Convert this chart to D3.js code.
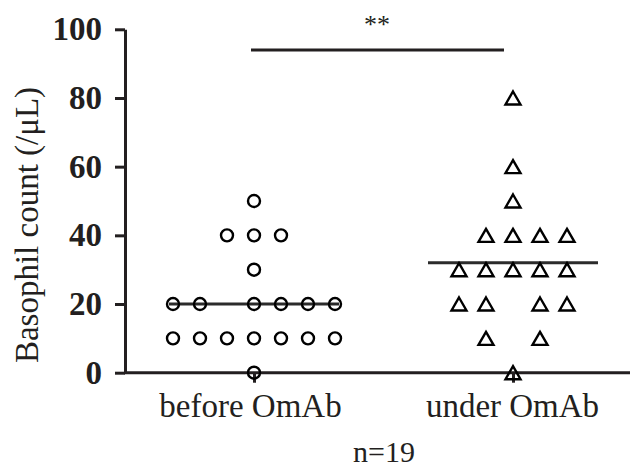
<!DOCTYPE html>
<html>
<head>
<meta charset="utf-8">
<script src="https://cdn.jsdelivr.net/npm/d3@7"></script>
<style>
   body { margin: 0; background: #fff; }
   svg { display: block; }
</style>
</head>
<body>
<svg id="chart" width="636" height="470"></svg>
<script>
(function(){
   // data
   var groups = ['before OmAb', 'under OmAb'];
   var beforeValues = [50, 40, 40, 40, 30, 20, 20, 20, 20, 20, 20, 10, 10, 10, 10, 10, 10, 10, 0];
   var beforeSlots  = [ 0, -1,  0,  1,  0, -3, -2,  0,  1,  2,  3, -3, -2, -1,  0,  1,  2,  3, 0];
   var underValues  = [80, 60, 50, 40, 40, 40, 40, 30, 30, 30, 30, 30, 20, 20, 20, 20, 10, 10, 0];
   var underSlots   = [ 0,  0,  0, -1,  0,  1,  2, -2, -1,  0,  1,  2, -2, -1,  1,  2, -1,  1, 0];
   var medians = [20, 32];
   var yTicks = [0, 20, 40, 60, 80, 100];
   var sigLevel = 94;
   var sigLabel = '**';
   var yTitle = 'Basophil count (/\u03bcL)';
   var note = 'n=19';

   var ink = '#231f20';
   var serif = '"Liberation Serif", "Times New Roman", serif';

   var svg = d3.select('#chart');
   var x = d3.scalePoint().domain(groups).range([254, 513]);
   var y = d3.scaleLinear().domain([0, 100]).range([372.7, 29.3]);
   var slot = d3.scaleLinear().domain([-1, 1]).range([-27, 27]);

   // y axis
   var yAxis = svg.append('g')
      .attr('transform', 'translate(125,0)')
      .call(d3.axisLeft(y).tickValues(yTicks).tickSize(10).tickSizeOuter(0).tickPadding(13));
   yAxis.select('.domain').attr('stroke', ink).attr('stroke-width', 3);
   yAxis.selectAll('.tick line').attr('stroke', ink).attr('stroke-width', 3);
   yAxis.selectAll('.tick text')
      .attr('fill', ink)
      .attr('font-family', serif)
      .attr('font-weight', 'bold')
      .attr('font-size', 33);

   // x axis
   var xAxis = svg.append('g')
      .attr('transform', 'translate(0,' + y(0) + ')')
      .call(d3.axisBottom(x).tickSize(10).tickSizeOuter(0).tickPadding(11));
   xAxis.select('.domain').remove();
   xAxis.append('line')
      .attr('x1', 124)
      .attr('x2', 630)
      .attr('stroke', ink)
      .attr('stroke-width', 3);
   xAxis.selectAll('.tick line').attr('stroke', ink).attr('stroke-width', 3);
   xAxis.selectAll('.tick text')
      .attr('fill', ink)
      .attr('font-family', serif)
      .attr('font-size', 33)
      .attr('dx', function(d, i){ return i === 0 ? -4 : -1; });

   // axis title
   svg.append('text')
      .attr('transform', 'translate(38,225) rotate(-90)')
      .attr('text-anchor', 'middle')
      .attr('fill', ink)
      .attr('font-family', serif)
      .attr('font-size', 33)
      .text(yTitle);

   svg.append('text')
      .attr('x', 384)
      .attr('y', 462)
      .attr('text-anchor', 'middle')
      .attr('fill', ink)
      .attr('font-family', serif)
      .attr('font-size', 30)
      .text(note);

   // medians
   svg.selectAll('.median')
      .data(medians)
      .enter().append('line')
      .attr('class', 'median')
      .attr('x1', function(d, i){ return x(groups[i]) - 85; })
      .attr('x2', function(d, i){ return x(groups[i]) + 85; })
      .attr('y1', function(d){ return y(d); })
      .attr('y2', function(d){ return y(d); })
      .attr('stroke', '#2b2b2b')
      .attr('stroke-width', 3);

   // points
   var before = beforeValues.map(function(v, i){ return {v: v, s: beforeSlots[i]}; });
   var under = underValues.map(function(v, i){ return {v: v, s: underSlots[i]}; });

   svg.append('g').selectAll('circle')
      .data(before)
      .enter().append('circle')
      .attr('cx', function(d){ return x(groups[0]) + slot(d.s); })
      .attr('cy', function(d){ return y(d.v); })
      .attr('r', 6)
      .attr('fill', 'none')
      .attr('stroke', '#000')
      .attr('stroke-width', 2.4);

   svg.append('g').selectAll('path')
      .data(under)
      .enter().append('path')
      .attr('d', 'M0,-6.5L7.5,6.5L-7.5,6.5Z')
      .attr('transform', function(d){
         return 'translate(' + (x(groups[1]) + slot(d.s)) + ',' + y(d.v) + ')';
      })
      .attr('fill', 'none')
      .attr('stroke', '#000')
      .attr('stroke-width', 2.4)
      .attr('stroke-linejoin', 'miter');

   // significance bar
   svg.append('line')
      .attr('x1', x(groups[0]) - 3)
      .attr('x2', x(groups[1]) - 9)
      .attr('y1', y(sigLevel))
      .attr('y2', y(sigLevel))
      .attr('stroke', ink)
      .attr('stroke-width', 3);
   svg.append('text')
      .attr('x', 377)
      .attr('y', 33)
      .attr('text-anchor', 'middle')
      .attr('fill', ink)
      .attr('font-family', serif)
      .attr('font-size', 26)
      .text(sigLabel);
})();
</script>
</body>
</html>
